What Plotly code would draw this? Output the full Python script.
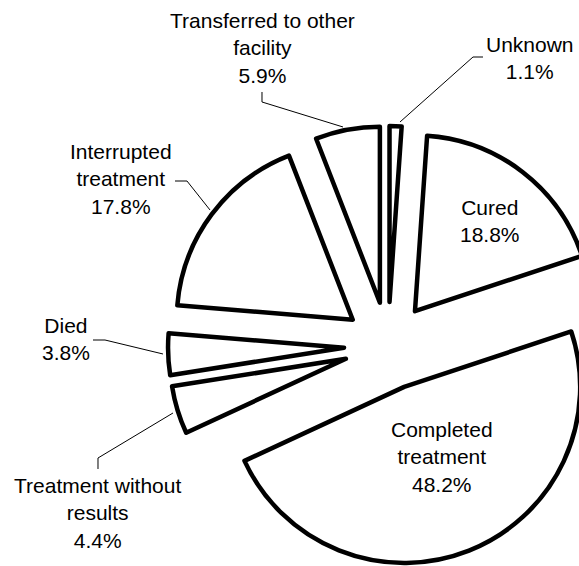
import plotly.graph_objects as go

# ---- data ----
labels = ["Unknown", "Cured", "Completed treatment", "Treatment without results",
          "Died", "Interrupted treatment", "Transferred to other facility"]
values = [1.1, 18.8, 48.2, 4.4, 3.8, 17.8, 5.9]
label_text = ["Unknown", "Cured", "Completed<br>treatment", "Treatment without<br>results",
              "Died", "Interrupted<br>treatment", "Transferred to other<br>facility"]

# ---- layout helpers ----
W, H = 620, 566
FONT = "Liberation Sans, Arial, sans-serif"
FS = 21


def px(x):
    return x / W


def py(y):
    return 1 - y / H


CX, CY, BOX = 388, 346, 440

fig = go.Figure()
fig.add_trace(go.Pie(
    labels=labels,
    values=values,
    sort=False,
    direction="clockwise",
    rotation=0,
    pull=[0.25] * len(values),
    marker=dict(colors=["white"] * len(values), line=dict(color="black", width=4.5)),
    textinfo="none",
    hoverinfo="label+percent",
    showlegend=False,
    domain=dict(x=[px(CX - BOX / 2), px(CX + BOX / 2)], y=[py(CY + BOX / 2), py(CY - BOX / 2)]),
))

# label positions (pixel centres) for each slice label
label_pos = {
    "Unknown": (530, 58),
    "Cured": (490, 221),
    "Completed treatment": (442, 457),
    "Treatment without results": (98, 513),
    "Died": (66, 339),
    "Interrupted treatment": (121, 179),
    "Transferred to other facility": (262, 48),
}
annotations = []
for lab, txt, v in zip(labels, label_text, values):
    x, y = label_pos[lab]
    annotations.append(dict(
        x=px(x), y=py(y), xref="paper", yref="paper",
        text=f"{txt}<br>{v:.1f}%", showarrow=False,
        xanchor="center", yanchor="middle", align="center",
        font=dict(family=FONT, size=FS, color="black"),
    ))

leaders = [
    [(483, 57), (473, 57), (400, 122)],
    [(262, 92), (262, 102), (343, 127)],
    [(175, 181), (187, 181), (210, 210)],
    [(93, 340), (105, 340), (163, 354)],
    [(98, 469), (98, 458), (173, 413)],
]
shapes = []
for pts in leaders:
    path = "M " + " L ".join(f"{px(x):.5f},{py(y):.5f}" for x, y in pts)
    shapes.append(dict(type="path", path=path, xref="paper", yref="paper",
                       line=dict(color="black", width=1)))

fig.update_layout(
    width=W, height=H,
    margin=dict(l=0, r=0, t=0, b=0),
    paper_bgcolor="white", plot_bgcolor="white",
    annotations=annotations, shapes=shapes,
    font=dict(family=FONT, size=FS, color="black"),
)

fig.write_html(
    "out.html",
    config={"displayModeBar": False},
    post_script="document.body.style.margin='0';document.body.style.overflow='hidden';",
)
